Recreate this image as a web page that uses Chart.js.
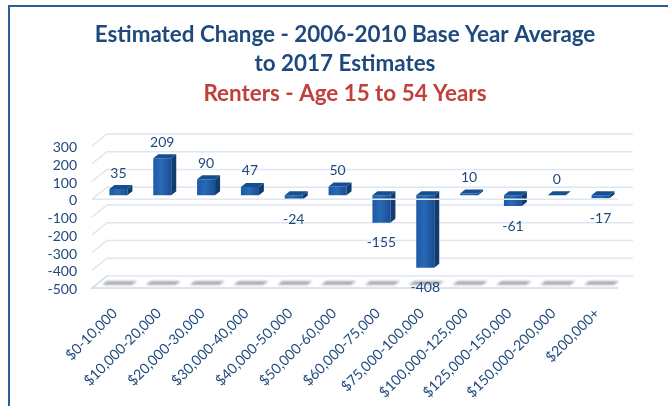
<!DOCTYPE html>
<html>
<head>
<meta charset="utf-8">
<style>
  html, body { margin: 0; padding: 0; background: #fff; overflow: hidden; }
  #wrap { position: relative; width: 668px; height: 406px; }
  #frame { position: absolute; left: 8px; top: 5px; width: 670px; height: 410px; border: 2px solid #2f5d96; box-sizing: border-box; }
  canvas { position: absolute; left: 0; top: 0; }
</style>
</head>
<body>
<div id="wrap">
  <div id="frame"></div>
  <canvas id="chart" width="668" height="406"></canvas>
</div>
<script src="https://cdn.jsdelivr.net/npm/chart.js@4"></script>
<script>
// Categories and values
const categories = [
  "$0-10,000", "$10,000-20,000", "$20,000-30,000", "$30,000-40,000",
  "$40,000-50,000", "$50,000-60,000", "$60,000-75,000", "$75,000-100,000",
  "$100,000-125,000", "$125,000-150,000", "$150,000-200,000", "$200,000+"
];
const changes = [35, 209, 90, 47, -24, 50, -155, -408, 10, -61, 0, -17];
const titleLines = ["Estimated Change - 2006-2010 Base Year Average", "to 2017 Estimates"];
const subtitleLine = "Renters - Age 15 to 54 Years";
const yMin = -500;
const yMax = 300;
const yStep = 100;

const navy = "#1f497d";
const font = "Lato, Carlito, sans-serif";

// Fake 3D: wall depth of the plot, and how far each bar sits from the front
const wallDx = 15, wallDy = -12;
const barDx = 4.5, barDy = -4;
const sideDx = 5, sideDy = -4;

function faces(ctx, pts, fill) {
  ctx.beginPath();
  ctx.moveTo(pts[0], pts[1]);
  for (let i = 2; i < pts.length; i += 2) ctx.lineTo(pts[i], pts[i + 1]);
  ctx.closePath();
  ctx.fillStyle = fill;
  ctx.fill();
}

// Walls, floor and the floor shadows go behind the bars
const wallsPlugin = {
  id: "walls",
  beforeDatasetsDraw(chart) {
    const { ctx, chartArea: a, scales: { x, y } } = chart;
    ctx.save();
    ctx.strokeStyle = "#dde6f2";
    ctx.lineWidth = 1.5;
    y.ticks.forEach(t => {
      const py = y.getPixelForValue(t.value);
      ctx.beginPath();
      ctx.moveTo(a.left, py);
      ctx.lineTo(a.left + wallDx, py + wallDy);
      ctx.lineTo(a.right + wallDx, py + wallDy);
      ctx.stroke();
    });
    ctx.strokeStyle = "#cfdcee";
    ctx.beginPath();
    ctx.moveTo(a.left + wallDx, a.bottom + wallDy);
    ctx.lineTo(a.left, a.bottom);
    ctx.lineTo(a.right, a.bottom);
    ctx.stroke();

    // grey smears on the floor under every bar
    ctx.filter = "blur(1.2px)";
    categories.forEach((c, i) => {
      const cx = x.getPixelForTick(i) + 6;
      const py = a.bottom - 5;
      faces(ctx, [cx - 18, py + 2, cx + 12, py + 2, cx + 17, py - 2, cx - 13, py - 2], "#aeaeae");
    });
    ctx.restore();

    // the bars themselves stand a little way into the plot
    ctx.save();
    ctx.translate(barDx, barDy);
  },
  afterDatasetsDraw(chart) {
    const { ctx, chartArea: a, scales: { y } } = chart;
    const meta = chart.getDatasetMeta(0);
    meta.data.forEach(bar => {
      const left = bar.x - bar.width / 2;
      const right = bar.x + bar.width / 2;
      const top = Math.min(bar.y, bar.base);
      const bottom = Math.max(bar.y, bar.base);
      faces(ctx, [right, top, right + sideDx, top + sideDy, right + sideDx, bottom + sideDy, right, bottom], "#123c70");
      faces(ctx, [left, top, right, top, right + sideDx, top + sideDy, left + sideDx, top + sideDy], "#14508f");
    });
    ctx.restore();

    // front edge of the zero plane runs over the bars
    const zero = y.getPixelForValue(0);
    ctx.save();
    ctx.strokeStyle = "#dfe7f2";
    ctx.lineWidth = 1.5;
    ctx.beginPath();
    ctx.moveTo(a.left, zero);
    ctx.lineTo(a.right, zero);
    ctx.stroke();

    // value labels
    ctx.fillStyle = navy;
    ctx.font = "14px " + font;
    ctx.textAlign = "center";
    ctx.textBaseline = "middle";
    meta.data.forEach((bar, i) => {
      const v = changes[i];
      const py = v >= 0 ? bar.y + barDy - 16 : bar.y + barDy + 20;
      ctx.fillText(String(v), bar.x + barDx, py);
    });
    ctx.restore();
  }
};

new Chart(document.getElementById("chart"), {
  type: "bar",
  data: {
    labels: categories,
    datasets: [{
      data: changes,
      categoryPercentage: 1,
      barPercentage: 0.41,
      borderWidth: 0,
      backgroundColor: c => {
        const { chart, dataIndex } = c;
        if (!chart.chartArea) return "#1f5ca8";
        const px = chart.scales.x.getPixelForTick(dataIndex);
        const g = chart.ctx.createLinearGradient(px - 9, 0, px + 9, 0);
        g.addColorStop(0, "#1b5aa6");
        g.addColorStop(0.45, "#2a69b5");
        g.addColorStop(1, "#174f95");
        return g;
      }
    }]
  },
  options: {
    responsive: false,
    animation: false,
    layout: { padding: { left: 22, right: 0, top: 0, bottom: 0 } },
    plugins: {
      legend: { display: false },
      tooltip: { enabled: false },
      title: {
        display: true,
        text: titleLines,
        color: navy,
        font: { family: font, size: 22.4, weight: "bold", lineHeight: 1.31 },
        padding: { top: 20, bottom: 0 }
      },
      subtitle: {
        display: true,
        text: subtitleLine,
        color: "#c0403c",
        font: { family: font, size: 22.4, weight: "bold", lineHeight: 1.31 },
        padding: { top: 0, bottom: 38 }
      }
    },
    scales: {
      x: {
        grid: { display: false, drawTicks: false },
        border: { display: false },
        ticks: {
          color: navy,
          font: { family: font, size: 14.2 },
          minRotation: 45,
          maxRotation: 45,
          autoSkip: false,
          padding: 17,
          labelOffset: 1
        },
        afterFit(s) { s.height = 118; }
      },
      y: {
        min: yMin,
        max: yMax,
        grid: { display: false, drawTicks: false },
        border: { display: false },
        ticks: {
          stepSize: yStep,
          autoSkip: false,
          color: navy,
          font: { family: font, size: 14 },
          padding: 15,
          labelOffset: 1.5
        },
        afterFit(s) { s.width = 70; }
      },
      // empty axis keeps the plot off the right edge, title stays centred
      spacer: {
        position: "right",
        grid: { display: false, drawTicks: false },
        border: { display: false },
        ticks: { display: false },
        afterFit(s) { s.width = 50; }
      }
    }
  },
  plugins: [wallsPlugin]
});
</script>
</body>
</html>
